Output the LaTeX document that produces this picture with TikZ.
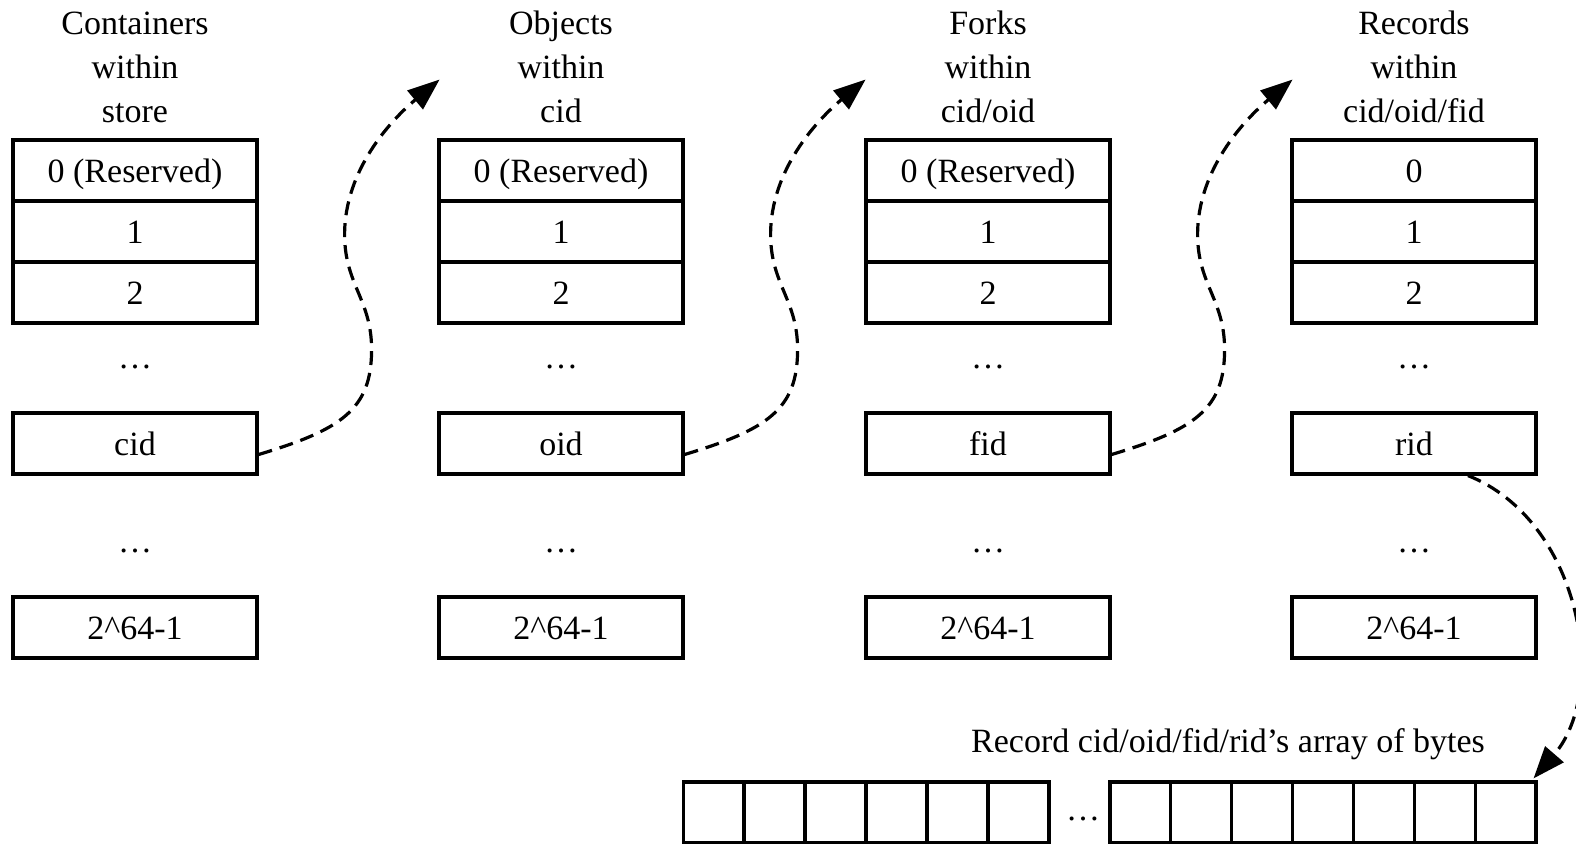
\documentclass[tikz,border=0pt]{standalone}
\usepackage{fontspec}
\setmainfont{Liberation Serif}
\usepackage{tikz}
\usetikzlibrary{positioning, calc, arrows.meta}
\definecolor{idInk}{RGB}{0, 0, 0}
\tikzset{
    base/.style={
        font=\fontsize{17}{22}\selectfont,
        align=center,
        text=idInk
    },
    cell/.style={
        base,
        rectangle,
        draw=idInk,
        line width=1.6pt,
        minimum width=122pt,
        minimum height=30.5pt,
        text height=12pt,
        text depth=0pt,
        inner sep=0pt
    },
    byte/.style={
        cell,
        minimum width=30.4pt
    },
    gap/.style={
        base,
        inner sep=0pt
    },
    link/.style={
        -{Triangle[length=16pt, width=12pt]},
        line width=1.6pt,
        dash pattern=on 7pt off 4pt,
        color=idInk
    }
}

\begin{document}
\begin{tikzpicture}[x=0.5pt, y=-0.5pt]
  \useasboundingbox (0,0) rectangle (1576,843);

  % Id tables
  \foreach \col/\x/\head/\zero/\key in {
      a/135/{Containers\\within\\store}/{0 (Reserved)}/cid,
      b/561/{Objects\\within\\cid}/{0 (Reserved)}/oid,
      c/988/{Forks\\within\\cid/oid}/{0 (Reserved)}/fid,
      d/1414/{Records\\within\\cid/oid/fid}/0/rid} {
    \node[gap] (head-\col) at (\x,67) {\head};
    \node[cell] (\col0) at (\x,170.5) {\zero};
    \node[cell] (\col1) at (\x,231.5) {1};
    \node[cell] (\col2) at (\x,292.5) {2};
    \node[gap] (\col-dots) at (\x,367) {…};
    \node[gap] (\col-more) at (\x,551) {…};
    \node[cell] (\key) at (\x,443.5) {\key};
    \node[cell] (\col-max) at (\x,627.5) {2\textasciicircum 64-1};
  }

  % Byte array
  \node[gap] (bytes-label) at (1228,744) {Record cid/oid/fid/rid’s array of bytes};
  \foreach \i in {0,...,5}
    \node[byte] (b\i) at ({713.5+61*\i},812.5) {};
  \node[gap] (bytes-dots) at (1083,819) {…};
  \foreach \i in {0,...,6}
    \node[byte] (bb\i) at ({1140.4+60.86*\i},812.5) {};

  % Pointers
  \foreach \src in {cid,oid,fid} {
    \begin{scope}[shift={($(\src.east)+(0,11)$)}]
      \coordinate (to-\src) at (181,-375);
      \draw[link] (0,0) .. controls (83,-25) and (113,-45) .. (113,-105)
        .. controls (113,-155) and (86,-170) .. (86,-220)
        .. controls (86,-285) and (133,-335) .. (to-\src);
    \end{scope}
  }
  \coordinate (to-bytes) at ($(bb6.north east)+(-4,-2)$);
  \draw[link] ($(rid.south)+(54,0)$) .. controls (1580,520) and (1610,690) .. (to-bytes);
\end{tikzpicture}
\end{document}
